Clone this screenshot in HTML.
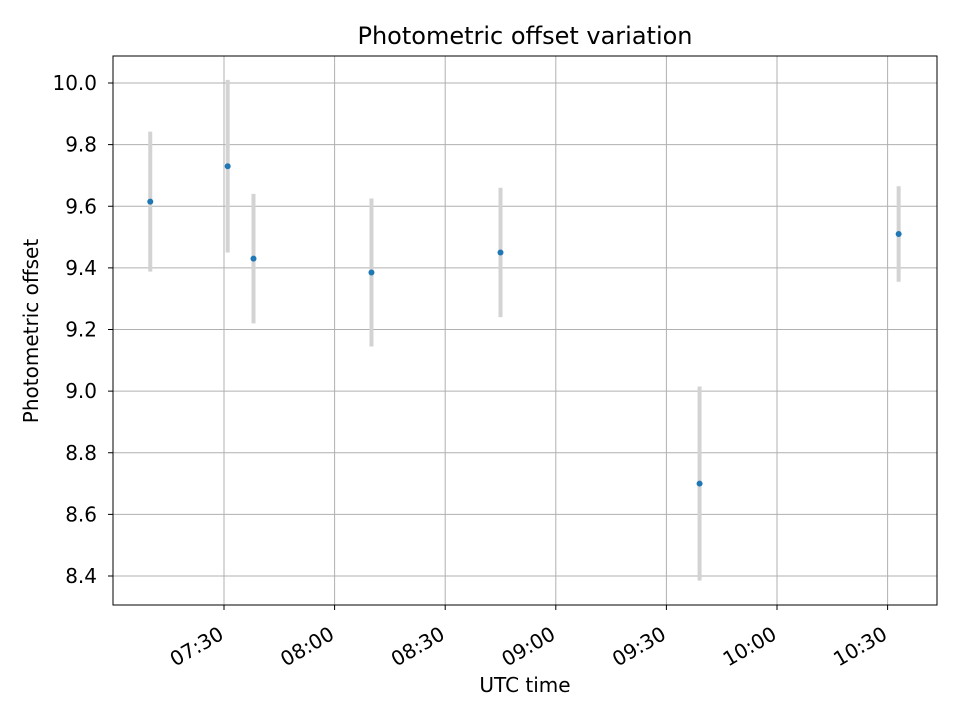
<!DOCTYPE html>
<html><head><meta charset="utf-8"><style>
body{margin:0;background:#fff;}
svg text{font-family:"DejaVu Sans","Liberation Sans",sans-serif;fill:#000;}
</style></head><body>
<svg id="chart" width="960" height="720">
<text x="525" y="44" font-size="24" text-anchor="middle">Photometric offset variation</text>
<g id="grid"></g><g id="marks"></g><g id="axes"></g>
<rect x="113" y="56" width="824" height="549" fill="none" stroke="#000" stroke-width="1"/>
<text x="525" y="692" font-size="20" text-anchor="middle">UTC time</text>
<text transform="translate(38,331) rotate(-90)" font-size="20" text-anchor="middle">Photometric offset</text>
</svg>
<script>
const times=["07:10","07:31","07:38","08:10","08:45","09:39","10:33"];
const offsets=[9.615,9.73,9.43,9.385,9.45,8.70,9.51];
const errors=[0.227,0.28,0.21,0.24,0.21,0.315,0.155];
const yTicks=[8.4,8.6,8.8,9.0,9.2,9.4,9.6,9.8,10.0];
const xTicks=["07:30","08:00","08:30","09:00","09:30","10:00","10:30"];
const NS="http://www.w3.org/2000/svg";
function mins(t){const p=t.split(":");return +p[0]*60+ +p[1];}
function xs(t){return 224+(mins(t)-450)/30*110.6;}
function ys(v){return 83+(10-v)/0.2*61.625;}
function mk(tag,a,parent){const e=document.createElementNS(NS,tag);for(const k in a)e.setAttribute(k,a[k]);document.getElementById(parent).appendChild(e);return e;}
yTicks.forEach(v=>{const y=ys(v);
 const g=mk("line",{x1:113,x2:937,y1:y,y2:y,stroke:"#b0b0b0","stroke-width":1},"grid");
 
 
 const t=mk("line",{x1:108,x2:113,y1:y,y2:y,stroke:"#000"},"axes");
 
 
 const l=mk("text",{x:97,y:y+7,"font-size":20,"text-anchor":"end"},"axes");
 l.textContent=v.toFixed(1);
 
 
});
xTicks.forEach(s=>{const x=xs(s);
 const g=mk("line",{x1:x,x2:x,y1:56,y2:605,stroke:"#b0b0b0","stroke-width":1},"grid");
 
 
 const t=mk("line",{x1:x,x2:x,y1:605,y2:610,stroke:"#000"},"axes");
 
 
 const l=mk("text",{transform:`translate(${x+1},638) rotate(-30)`,"font-size":20,"text-anchor":"end"},"axes");
 l.textContent=s;
 
 
});
times.forEach((t,i)=>{const x=xs(t);
 const e=mk("line",{x1:x,x2:x,y1:ys(offsets[i]+errors[i]),y2:ys(offsets[i]-errors[i]),stroke:"#d3d3d3","stroke-width":4},"marks");
 
 
 const c=mk("circle",{cx:x,cy:ys(offsets[i]),r:3,fill:"#1f77b4"},"marks");
 
 
});
</script>
</body></html>
